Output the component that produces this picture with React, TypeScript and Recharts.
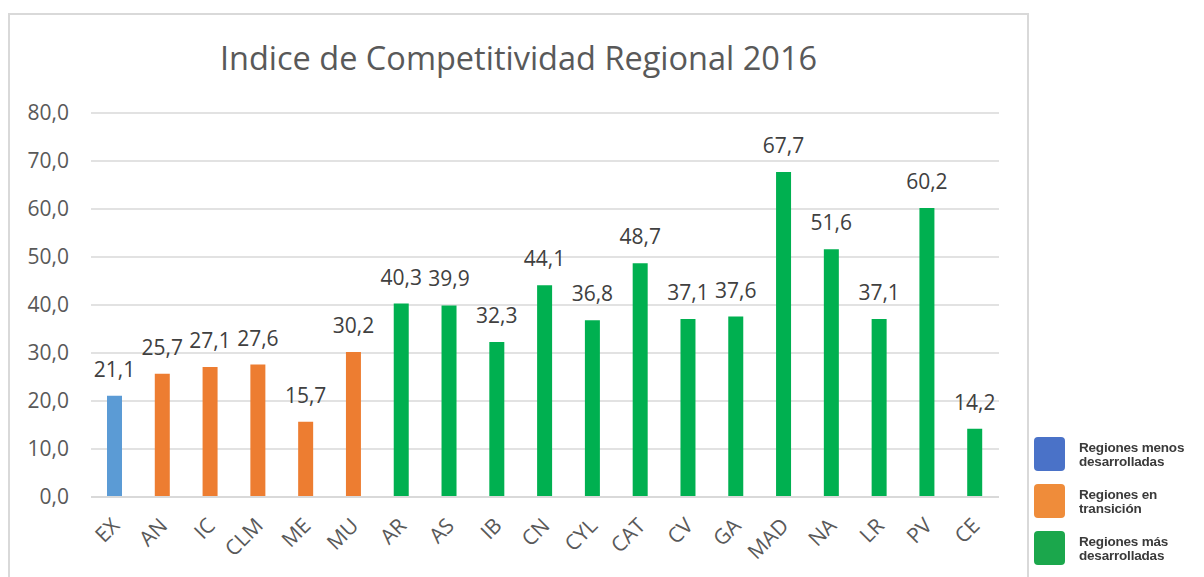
import { BarChart, Bar, XAxis, YAxis, CartesianGrid, Cell, LabelList } from "recharts"

const regions = ["EX", "AN", "IC", "CLM", "ME", "MU", "AR", "AS", "IB", "CN", "CYL", "CAT", "CV", "GA", "MAD", "NA", "LR", "PV", "CE"]
const values = [21.1, 25.7, 27.1, 27.6, 15.7, 30.2, 40.3, 39.9, 32.3, 44.1, 36.8, 48.7, 37.1, 37.6, 67.7, 51.6, 37.1, 60.2, 14.2]
// 0 = menos desarrolladas, 1 = en transición, 2 = más desarrolladas
const groupOf = [0, 1, 1, 1, 1, 1, 2, 2, 2, 2, 2, 2, 2, 2, 2, 2, 2, 2, 2]
const yTicks = [0, 10, 20, 30, 40, 50, 60, 70, 80]

const barColors = ["#5b9bd5", "#ed7d31", "#00b050"]
const legendNames = [["Regiones menos", "desarrolladas"], ["Regiones en", "transición"], ["Regiones más", "desarrolladas"]]
const legendColors = ["#4a72c8", "#ef8c3a", "#1ba74c"]

const data = regions.map((region, i) => ({ region, value: values[i], group: groupOf[i] }))

const fmt = (v: number) => v.toFixed(1).replace(".", ",")

const FONT = '"Open Sans", sans-serif'

const RegionTick = (props: any) => {
  const { x, y, payload } = props
  return (
    <text
      transform={`translate(${x + 6},${y + 30}) rotate(-45)`}
      textAnchor="end"
      fill="#595959"
      fontSize={21}
      fontFamily={FONT}
    >
      {payload.value}
    </text>
  )
}

const ValueLabel = (props: any) => {
  const { x, y, width, value } = props
  return (
    <text x={x + width / 2} y={y - 19} textAnchor="middle" fill="#404040" fontSize={21} fontFamily={FONT}>
      {fmt(value)}
    </text>
  )
}

export default function App() {
  return (
    <div style={{ position: "absolute", left: 0, top: 0, width: 1204, height: 577, overflow: "hidden", background: "#fff", fontFamily: FONT }}>
      <div style={{ position: "absolute", left: 8, top: 13, width: 1021, height: 600, border: "2px solid #d9d9d9", boxSizing: "border-box" }} />
      <div style={{ position: "absolute", left: 9, width: 1019, top: 42, textAlign: "center", fontSize: 32.5, lineHeight: "32px", color: "#595959" }}>
        Indice de Competitividad Regional 2016
      </div>
      <div style={{ position: "absolute", left: 0, top: 0 }}>
        <BarChart width={1204} height={577} data={data} margin={{ top: 113, right: 205, bottom: 10, left: 0 }}>
          <CartesianGrid vertical={false} stroke="#d9d9d9" strokeWidth={1.5} />
          <XAxis
            dataKey="region"
            interval={0}
            height={70}
            tickLine={false}
            tickSize={0}
            tickMargin={0}
            axisLine={{ stroke: "#d9d9d9", strokeWidth: 2 }}
            tick={<RegionTick />}
          />
          <YAxis
            width={91}
            domain={[0, 80]}
            ticks={yTicks}
            tickFormatter={fmt}
            axisLine={false}
            tickLine={false}
            tickSize={0}
            tickMargin={22}
            tick={{ fill: "#595959", fontSize: 21, fontFamily: FONT }}
          />
          <Bar dataKey="value" barSize={15} isAnimationActive={false}>
            {data.map((d, i) => (
              <Cell key={i} fill={barColors[d.group]} />
            ))}
            <LabelList dataKey="value" content={<ValueLabel />} />
          </Bar>
        </BarChart>
      </div>
      {/* legend pasted beside the chart frame */}
      <div style={{ position: "absolute", left: 1034, top: 437, filter: "blur(0.6px)" }}>
        {legendNames.map((lines, i) => (
          <div key={i} style={{ display: "flex", alignItems: "flex-start", height: 47 }}>
            <div style={{ width: 31, height: 34, borderRadius: 4, background: legendColors[i], flexShrink: 0 }} />
            <div style={{ marginLeft: 14, marginTop: 4, fontSize: 13.5, lineHeight: "14px", fontWeight: 700, letterSpacing: -0.2, color: "#3a3a3a", fontFamily: '"Liberation Sans", sans-serif', whiteSpace: "nowrap" }}>
              <div>{lines[0]}</div>
              <div>{lines[1]}</div>
            </div>
          </div>
        ))}
      </div>
    </div>
  )
}
